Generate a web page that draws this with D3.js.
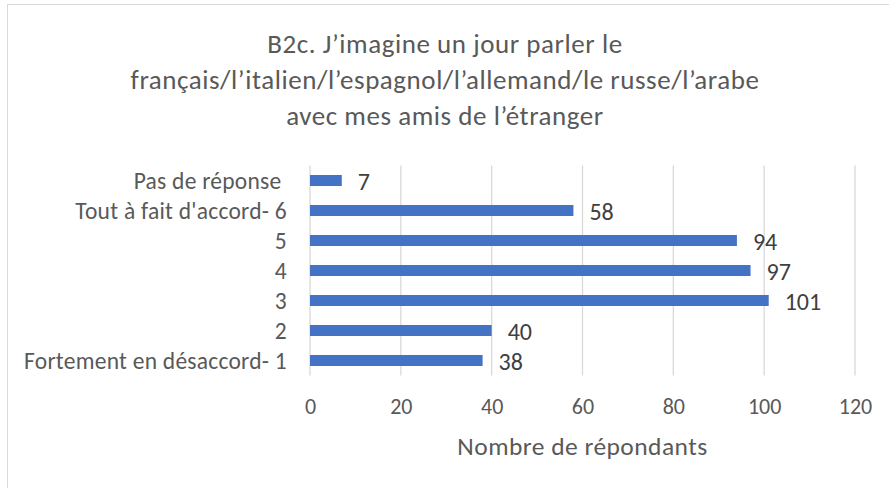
<!DOCTYPE html>
<html>
<head>
<meta charset="utf-8">
<script src="https://cdn.jsdelivr.net/npm/d3@7"></script>
<style>
  body { margin: 0; background: #fff; }
  svg text { font-family: Carlito, Calibri, Roboto, sans-serif; white-space: pre; }
</style>
</head>
<body>
<svg></svg>
<script>
// chart data, top to bottom as in the picture
var categories = ["Pas de réponse ", "Tout à fait d'accord- 6", "5", "4", "3", "2", "Fortement en désaccord- 1"];
var counts = [7, 58, 94, 97, 101, 40, 38];
var xTicks = [0, 20, 40, 60, 80, 100, 120];
var titleLines = ["B2c. J’imagine un jour parler le",
                  "français/l’italien/l’espagnol/l’allemand/le russe/l’arabe",
                  "avec mes amis de l’étranger"];
var xTitle = "Nombre de répondants";

var data = categories.map(function(c, i) { return {term: c, value: counts[i]}; });

var W = 889, H = 488;
var margin = {top: 165.5, right: 34, bottom: 112.5, left: 310},
    width = W - margin.left - margin.right,
    height = H - margin.top - margin.bottom;

var svg = d3.select("svg").attr("width", W).attr("height", H);

//Outer border (right and bottom edges fall outside the picture)
svg.append("rect")
  .attr("x", 7.5).attr("y", 4.5)
  .attr("width", W).attr("height", H)
  .attr("fill", "#fff").attr("stroke", "#d9d9d9");

//Title
svg.append("g").selectAll("text")
  .data(titleLines)
  .enter().append("text")
    .attr("x", 445)
    .attr("y", function(d, i) { return 52.5 + i * 36; })
    .attr("text-anchor", "middle")
    .attr("font-size", 27)
    .attr("letter-spacing", 0.55)
    .attr("fill", "#595959")
    .text(function(d) { return d; });

var g = svg.append("g")
  .attr("transform", "translate(" + margin.left + "," + margin.top + ")");

var x = d3.scaleLinear().domain([0, 120]).range([0, width]);
var y = d3.scaleBand().domain(categories).range([0, height]).paddingInner(0.633).paddingOuter(0.317);

//Gridlines
g.append("g").selectAll("line")
  .data(xTicks)
  .enter().append("line")
    .attr("x1", function(d) { return x(d); })
    .attr("x2", function(d) { return x(d); })
    .attr("y1", 0).attr("y2", height)
    .attr("stroke", "#d9d9d9").attr("stroke-width", 1.3);

//X axis labels
var xAxis = g.append("g")
  .attr("transform", "translate(0," + height + ")")
  .call(d3.axisBottom(x).tickValues(xTicks).tickSize(0));
xAxis.select(".domain").remove();
xAxis.selectAll("text")
  .attr("y", 38.5)
  .attr("dy", 0)
  .attr("font-size", 22)
  .attr("fill", "#595959")
  .style("font-family", null);

//Y axis labels
var yAxis = g.append("g")
  .call(d3.axisLeft(y).tickSize(0).tickPadding(23));
yAxis.select(".domain").remove();
yAxis.selectAll("text")
  .attr("dy", "0.35em")
  .attr("font-size", 23.5)
  .attr("letter-spacing", 0.25)
  .attr("fill", "#595959")
  .style("font-family", null);

//Bars
g.selectAll(".bar")
  .data(data)
  .enter().append("rect")
    .attr("class", "bar")
    .attr("x", x(0))
    .attr("y", function(d) { return y(d.term); })
    .attr("width", function(d) { return x(d.value) - x(0); })
    .attr("height", y.bandwidth())
    .attr("fill", "#4472c4");

//Value labels
g.selectAll(".lbl")
  .data(data)
  .enter().append("text")
    .attr("class", "lbl")
    .attr("x", function(d) { return x(d.value) + 16; })
    .attr("y", function(d) { return y(d.term) + y.bandwidth() / 2; })
    .attr("dy", "0.38em")
    .attr("font-size", 24)
    .attr("fill", "#404040")
    .text(function(d) { return d.value; });

//X axis title
svg.append("text")
  .attr("x", margin.left + width / 2)
  .attr("y", 455)
  .attr("text-anchor", "middle")
  .attr("font-size", 25.5)
  .attr("letter-spacing", 0.45)
  .attr("fill", "#595959")
  .text(xTitle);
</script>
</body>
</html>
